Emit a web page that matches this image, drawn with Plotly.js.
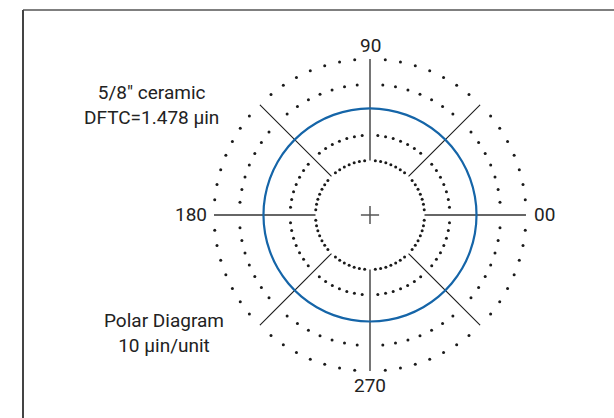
<!DOCTYPE html>
<html>
<head>
<meta charset="utf-8">
<script src="https://cdn.plot.ly/plotly-3.0.1.min.js"></script>
<style>html,body{margin:0;padding:0;background:#fff;}#chart{width:614px;height:418px;}</style>
</head>
<body>
<div id="chart"></div>
<script>
// Dotted reference rings (units), measured circle, radial spokes
const ringRadii = [2, 3, 5, 6];
const dotTheta = [
  5.625, 11.25, 16.875, 22.5, 28.125, 33.75, 39.375,
  50.625, 56.25, 61.875, 67.5, 73.125, 78.75, 84.375,
  95.625, 101.25, 106.875, 112.5, 118.125, 123.75, 129.375,
  140.625, 146.25, 151.875, 157.5, 163.125, 168.75, 174.375,
  185.625, 191.25, 196.875, 202.5, 208.125, 213.75, 219.375,
  230.625, 236.25, 241.875, 247.5, 253.125, 258.75, 264.375,
  275.625, 281.25, 286.875, 292.5, 298.125, 303.75, 309.375,
  320.625, 326.25, 331.875, 337.5, 343.125, 348.75, 354.375
];
const traceTheta = [0,10,20,30,40,50,60,70,80,90,100,110,120,130,140,150,160,170,180,
  190,200,210,220,230,240,250,260,270,280,290,300,310,320,330,340,350,360];
const traceR = [4.05,4.05,4.05,4.05,4.05,4.05,4.05,4.05,4.05,4.05,4.05,4.05,4.05,4.05,4.05,4.05,4.05,4.05,4.05,
  4.05,4.05,4.05,4.05,4.05,4.05,4.05,4.05,4.05,4.05,4.05,4.05,4.05,4.05,4.05,4.05,4.05,4.05];
const mainSpokes = [0, 90, 180, 270];
const diagSpokes = [45, 135, 225, 315];
const spokeR = [2, 6];
const axisLabels = ['00', '90', '180', '270'];
const rMin = -0.147;

const traces = [];
ringRadii.forEach(r => {
  traces.push({type:'scatterpolar', mode:'markers', r: dotTheta.map(() => r), theta: dotTheta,
    marker:{size:3, color:'#1a1a1a'}, hoverinfo:'skip', showlegend:false});
});
diagSpokes.forEach(a => {
  traces.push({type:'scatterpolar', mode:'lines', r: spokeR, theta:[a, a],
    line:{color:'#1a1a1a', width:1.1}, hoverinfo:'skip', showlegend:false});
});
mainSpokes.forEach(a => {
  traces.push({type:'scatterpolar', mode:'lines', r: spokeR, theta:[a, a],
    line:{color:'#666666', width:1.8}, hoverinfo:'skip', showlegend:false});
});
traces.push({type:'scatterpolar', mode:'lines', r: traceR, theta: traceTheta,
  line:{color:'#1565a8', width:2.2, shape:'spline'}, hoverinfo:'skip', showlegend:false});
traces.push({type:'scatterpolar', mode:'markers', r:[rMin], theta:[0],
  marker:{symbol:'cross-thin', size:13, color:'#555', line:{color:'#555', width:1.5}},
  hoverinfo:'skip', showlegend:false});

const lbl = (text, x, y, xa) => ({xref:'paper', yref:'paper', x:x/614, y:1-y/418, xanchor:xa, yanchor:'middle',
  showarrow:false, text:text, font:{size:19, color:'#222'}});

const layout = {
  width:614, height:418,
  margin:{l:0, r:0, t:0, b:0},
  paper_bgcolor:'#ffffff',
  font:{family:'Roboto, "Liberation Sans", sans-serif', size:19, color:'#222'},
  showlegend:false,
  polar:{
    domain:{x:[0.3485, 0.8567], y:[0.1124, 0.8589]},
    bgcolor:'rgba(0,0,0,0)',
    radialaxis:{range:[rMin, 6], visible:false},
    angularaxis:{visible:false, direction:'counterclockwise', rotation:0}
  },
  shapes:[
    {type:'line', xref:'paper', yref:'paper', x0:23/614, x1:1.05, y0:1-10/418, y1:1-10/418, line:{color:'#555', width:1.6}},
    {type:'line', xref:'paper', yref:'paper', x0:23/614, x1:23/614, y0:-0.05, y1:1-10/418, line:{color:'#444', width:2}}
  ],
  annotations:[
    lbl(axisLabels[0], 532, 214, 'left'),
    lbl(axisLabels[1], 370, 45.5, 'center'),
    lbl(axisLabels[2], 209, 214, 'right'),
    lbl(axisLabels[3], 369.5, 385, 'center'),
    {xref:'paper', yref:'paper', x:151/614, y:1-105/418, xanchor:'center', yanchor:'middle', showarrow:false,
      align:'center', text:'5/8" ceramic<br>DFTC=1.478 µin', font:{size:19, color:'#222'}},
    {xref:'paper', yref:'paper', x:164/614, y:1-333/418, xanchor:'center', yanchor:'middle', showarrow:false,
      align:'center', text:'Polar Diagram<br>10 µin/unit', font:{size:19, color:'#222'}}
  ]
};
Plotly.newPlot('chart', traces, layout, {staticPlot:true, displayModeBar:false});
</script>
</body>
</html>
